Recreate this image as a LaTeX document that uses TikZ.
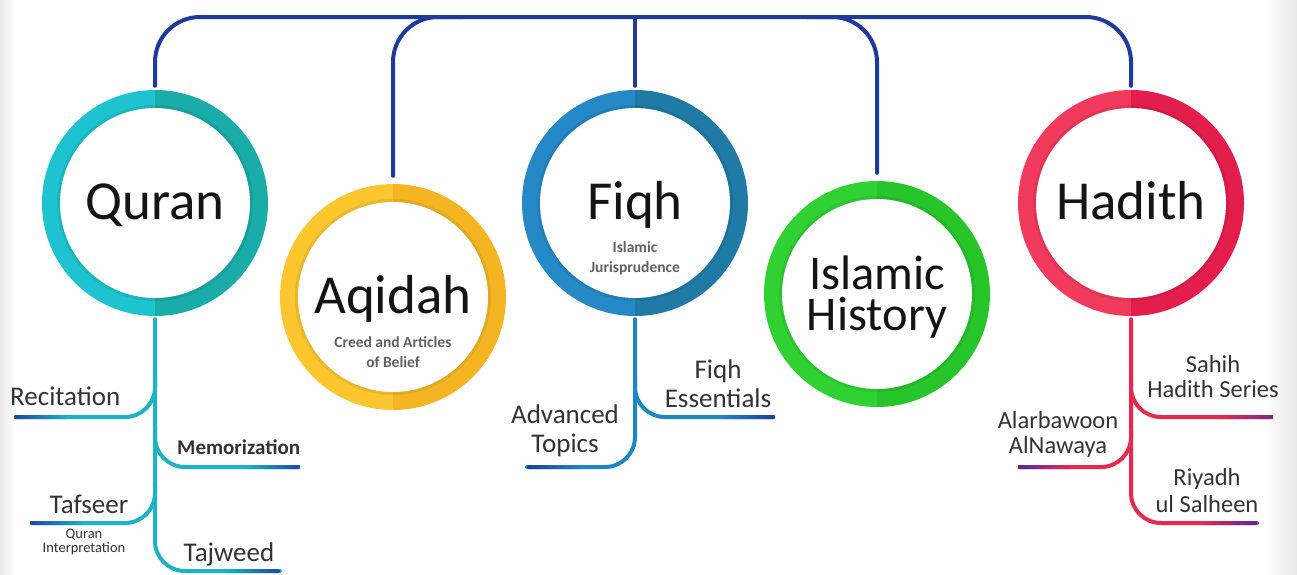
\documentclass[tikz,border=0pt]{standalone}
\usepackage{fontspec}
\setmainfont{Carlito}
\definecolor{busblue}{HTML}{1F3A9B}
\definecolor{endblue}{HTML}{1F47A0}
\definecolor{quranL}{HTML}{1EC3D0}
\definecolor{quranR}{HTML}{19ACA8}
\definecolor{quranbr}{HTML}{1DB3C6}
\definecolor{aqL}{HTML}{FBC62E}
\definecolor{aqR}{HTML}{F5B523}
\definecolor{fiqhL}{HTML}{2489C6}
\definecolor{fiqhR}{HTML}{1F7BA5}
\definecolor{fiqhbr}{HTML}{1F86C4}
\definecolor{fiqhend}{HTML}{1C3F9A}
\definecolor{histL}{HTML}{2FD232}
\definecolor{histR}{HTML}{27C52A}
\definecolor{hadL}{HTML}{F23B5C}
\definecolor{hadR}{HTML}{E31E4D}
\definecolor{hadbr}{HTML}{E8294F}
\definecolor{hadend}{HTML}{4B2D9E}
\definecolor{txt}{HTML}{333333}
\newcommand\ringdraw[3]{%
  \begin{scope}
    \clip ($(#1.center)+(-120,-120)$) rectangle ($(#1.center)+(0,120)$);
    \fill[#2] (#1.center) circle[radius=113];
  \end{scope}
  \begin{scope}
    \clip ($(#1.center)+(0,-120)$) rectangle ($(#1.center)+(120,120)$);
    \fill[#3] (#1.center) circle[radius=113];
  \end{scope}
  \fill[white] (#1.center) circle[radius=95];
  \draw[black, opacity=0.07, line width=3pt] (#1.center) circle[radius=96.5];
}
% tail at left end: x, y, branch colour, end colour
\newcommand\tailL[4]{\shade[left color=#4, right color=#3, rounded corners=2pt] (#1,#2-2) rectangle (#1+55,#2+2);}
\newcommand\tailR[4]{\shade[left color=#3, right color=#4, rounded corners=2pt] (#1-55,#2-2) rectangle (#1,#2+2);}
\usetikzlibrary{calc}
\begin{document}
\begin{tikzpicture}[x=1pt,y=-1pt,
  bus/.style={draw=busblue, line width=4pt, rounded corners=45pt, line cap=round},
  br/.style={line width=4pt, rounded corners=30pt},
  hub/.style={circle, minimum size=226pt, inner sep=0pt},
  big/.style={font=\fontsize{55}{60}\selectfont, text=black!92, inner sep=0pt, anchor=base},
  hist/.style={font=\fontsize{48.5}{41}\selectfont, text=black!92, inner sep=0pt, align=center},
  sub/.style={font=\fontsize{15.5}{18}\selectfont\bfseries, text=black!62, inner sep=0pt, anchor=base},
  lab/.style={font=\fontsize{27}{29}\selectfont, text=txt, inner sep=0pt, anchor=base},
  labs/.style={font=\fontsize{24.5}{27}\selectfont, text=txt, inner sep=0pt, anchor=base},
  tiny/.style={font=\fontsize{14.5}{16}\selectfont, text=txt, inner sep=0pt, anchor=base},
]
\useasboundingbox (0,0) rectangle (1297,574);
\fill[white] (0,0) rectangle (1297,574);
\shade[left color=black!9, right color=white] (0,0) rectangle (16,574);
\shade[left color=white, right color=black!9] (1262,0) rectangle (1297,574);

% hubs
\node[hub] (quran) at (155,203) {};
\node[hub] (aqidah) at (393,297) {};
\node[hub] (fiqh) at (635,203) {};
\node[hub] (hist) at (877,294) {};
\node[hub] (hadith) at (1131,203) {};

\ringdraw{quran}{quranL}{quranR}
\ringdraw{aqidah}{aqL}{aqR}
\ringdraw{fiqh}{fiqhL}{fiqhR}
\ringdraw{hist}{histL}{histR}
\ringdraw{hadith}{hadL}{hadR}

% bus
\coordinate (busy) at (0,17);
\draw[bus, shorten <=4pt, shorten >=4pt] (quran.north) -- (quran.north |- busy) -- (hadith.north |- busy) -- (hadith.north);
\draw[bus, shorten <=8pt] (aqidah.north) -- (aqidah.north |- busy) -- ++(70,0);
\draw[bus, shorten <=4pt] (fiqh.north) -- (fiqh.north |- busy);
\draw[bus, shorten <=8pt] (hist.north) -- (hist.north |- busy) -- ++(-70,0);

% hub labels
\node[big] (tq) at (155,219) {Quran};
\node[big] (ta) at (393,313) {Aqidah};
\node[sub] (ta1) at (393,347) {Creed and Articles};
\node[sub] (ta2) at (393,367) {of Belief};
\node[big] (tf) at (635,219) {Fiqh};
\node[sub] (tf1) at (635,252) {Islamic};
\node[sub] (tf2) at (635,272) {Jurisprudence};
\node[hist] (th) at (877,297) {Islamic\\History};
\node[big] (thd) at (1131,219) {Hadith};

% Quran branches
\coordinate (qrec) at (14,417);
\coordinate (qmem) at (300,467);
\coordinate (qtaf) at (30,523);
\coordinate (qtaj) at (280,571);
\draw[br, draw=quranbr, line cap=round] ($(quran.south)+(0,3)$) -- (quran.south |- qtaj) -- (qtaj);
\draw[br, draw=quranbr] ($(quran.south)+(0,60)$) -- (quran.south |- qrec) -- (qrec);
\draw[br, draw=quranbr] ($(quran.south)+(0,110)$) -- (quran.south |- qmem) -- (qmem);
\draw[br, draw=quranbr] ($(quran.south)+(0,170)$) -- (quran.south |- qtaf) -- (qtaf);
\tailL{14}{417}{quranbr}{endblue}
\tailR{300}{467}{quranbr}{endblue}
\tailL{30}{523}{quranbr}{endblue}
\tailR{280}{571}{quranbr}{endblue}
\node[lab, anchor=base west] (lrec) at (10,405) {Recitation};
\node[lab, font=\fontsize{21}{24}\selectfont\bfseries, anchor=base west] (lmem) at (177,454) {Memorization};
\node[lab] (ltaf) at (89,513) {Tafseer};
\node[tiny] (ltaf1) at (84,538) {Quran};
\node[tiny] (ltaf2) at (84,552) {Interpretation};
\node[lab] (ltaj) at (229,561) {Tajweed};

% Fiqh branches
\coordinate (fadv) at (527,467);
\coordinate (fess) at (775,417);
\draw[br, draw=fiqhbr, line cap=round] ($(fiqh.south)+(0,3)$) -- (fiqh.south |- fadv) -- (fadv);
\draw[br, draw=fiqhbr] ($(fiqh.south)+(0,60)$) -- (fiqh.south |- fess) -- (fess);
\tailL{527}{467}{fiqhbr}{fiqhend}
\tailR{775}{417}{fiqhbr}{fiqhend}
\node[lab] (ladv1) at (565,423) {Advanced};
\node[lab] (ladv2) at (565,452) {Topics};
\node[lab] (less1) at (718,378) {Fiqh};
\node[lab] (less2) at (718,407) {Essentials};

% Hadith branches
\coordinate (hsah) at (1273,417);
\coordinate (halr) at (1018,467);
\coordinate (hriy) at (1257,523);
\draw[br, draw=hadbr, line cap=round] ($(hadith.south)+(0,3)$) -- (hadith.south |- hriy) -- (hriy);
\draw[br, draw=hadbr] ($(hadith.south)+(0,60)$) -- (hadith.south |- hsah) -- (hsah);
\draw[br, draw=hadbr] ($(hadith.south)+(0,115)$) -- (hadith.south |- halr) -- (halr);
\tailR{1273}{417}{hadbr}{hadend!70!hadbr}
\tailL{1018}{467}{hadbr}{hadend}
\tailR{1257}{523}{hadbr}{hadend}
\node[labs] (lsah1) at (1213,372) {Sahih};
\node[labs] (lsah2) at (1213,397) {Hadith Series};
\node[labs] (lalr1) at (1058,428) {Alarbawoon};
\node[labs] (lalr2) at (1058,453) {AlNawaya};
\node[labs] (lriy1) at (1207,485) {Riyadh};
\node[labs] (lriy2) at (1207,512) {ul Salheen};
\end{tikzpicture}
\end{document}
